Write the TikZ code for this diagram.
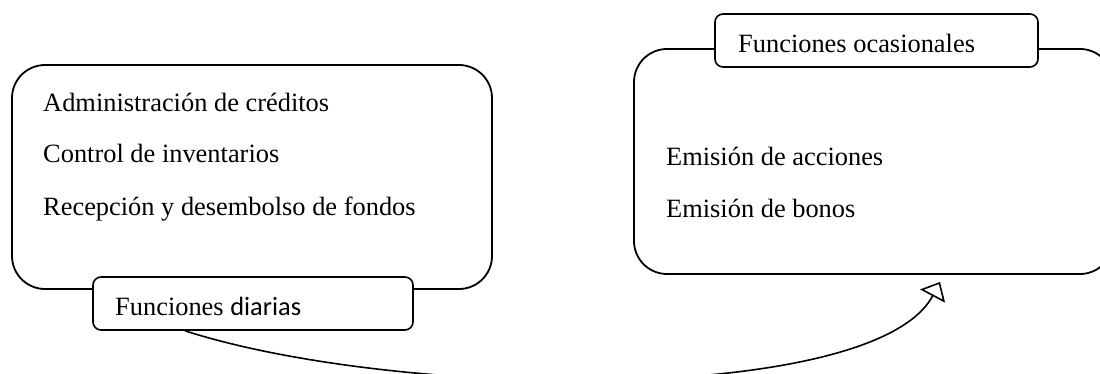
\documentclass[tikz,border=0pt]{standalone}
\usepackage{fontspec}
\setmainfont{Liberation Serif}
\newfontfamily\calfont{Carlito}
\usetikzlibrary{arrows.meta}
\begin{document}
\begin{tikzpicture}[x=1pt,y=-1pt,
  bigbox/.style={draw, line width=1.8pt, rounded corners=33pt, inner sep=0pt},
  tagbox/.style={draw, fill=white, line width=1.6pt, rounded corners=8pt, inner sep=0pt},
  txt/.style={anchor=base west, inner sep=0pt, font=\fontsize{26.4}{31}\selectfont},
  conn/.style={line width=1.6pt, -{Triangle[open, length=16pt, width=28pt]}}]
\useasboundingbox (0,0) rectangle (1100,374);
% left group
\node[bigbox, minimum width=480pt, minimum height=224pt] (L) at (252,177) {};
\node[tagbox, minimum width=320pt, minimum height=53pt] (FD) at (253,303.5) {};
\node[txt] (t1) at (43,112) {Administración de créditos};
\node[txt] (t2) at (43,163) {Control de inventarios};
\node[txt] (t3) at (43,215) {Recepción y desembolso de fondos};
\node[txt] (fdt) at (115,315) {Funciones {\calfont diarias}};
% right group
\node[bigbox, minimum width=479pt, minimum height=225pt] (R) at (873.5,161.5) {};
\node[tagbox, minimum width=323pt, minimum height=53pt] (FO) at (876.5,40.5) {};
\node[txt] (r1) at (666,166) {Emisión de acciones};
\node[txt] (r2) at (666,218) {Emisión de bonos};
\node[txt] (fot) at (738,53) {Funciones ocasionales};
% connector
\draw[conn] ([xshift=-68pt]FD.south) .. controls (400,400) and (875,405) .. ([xshift=66.5pt,yshift=-7pt]R.south);
\end{tikzpicture}
\end{document}
